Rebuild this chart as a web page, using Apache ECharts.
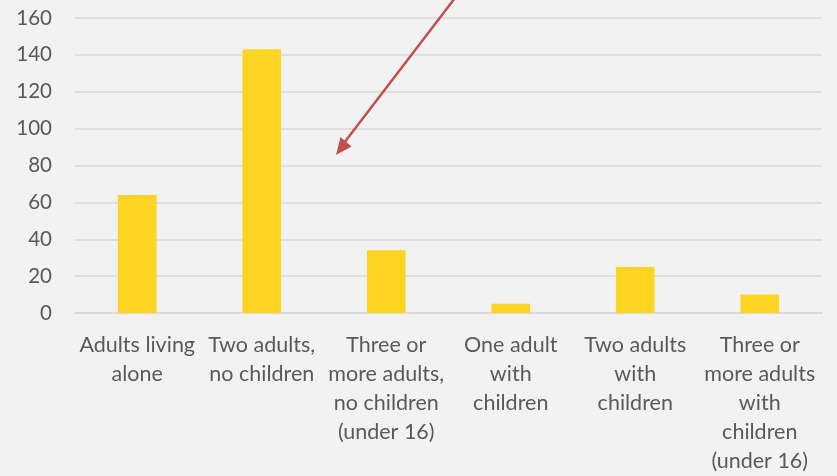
<!DOCTYPE html>
<html>
<head>
<meta charset="utf-8">
<script src="https://cdn.jsdelivr.net/npm/echarts@6/dist/echarts.min.js"></script>
<style>
  html, body { margin: 0; padding: 0; background: #f2f2f2; }
  #chart { width: 837px; height: 476px; }
</style>
</head>
<body>
<div id="chart"></div>
<script>
// Household types (wrapped as shown under the axis)
const categories = [
  'Adults living\nalone',
  'Two adults,\nno children',
  'Three or\nmore adults,\nno children\n(under 16)',
  'One adult\nwith\nchildren',
  'Two adults\nwith\nchildren',
  'Three or\nmore adults\nwith\nchildren\n(under 16)'
];
const values = [64, 143, 34, 5, 25, 10];
const yTicks = { min: 0, max: 160, interval: 20 };

const chart = echarts.init(document.getElementById('chart'));
const textColor = '#595959';
const font = 'Lato, "Open Sans", sans-serif';

chart.setOption({
  backgroundColor: '#f2f2f2',
  animation: false,
  grid: { left: 75, right: 15, top: 18, bottom: 160, containLabel: false },
  xAxis: {
    type: 'category',
    data: categories,
    axisLine: { show: true, lineStyle: { color: '#d9d9d9', width: 1.5 } },
    axisTick: { show: false },
    axisLabel: {
      color: textColor, fontFamily: font, fontSize: 21.5,
      lineHeight: 29, margin: 18, interval: 0, align: 'center'
    }
  },
  yAxis: {
    type: 'value',
    min: yTicks.min, max: yTicks.max, interval: yTicks.interval,
    axisLine: { show: false },
    axisTick: { show: false },
    splitLine: { lineStyle: { color: '#d9d9d9', width: 1.5 } },
    axisLabel: { color: textColor, fontFamily: font, fontSize: 20.5, margin: 23 }
  },
  series: [{
    type: 'bar',
    data: values,
    barWidth: '31%',
    itemStyle: { color: '#fdd421' }
  }],
  graphic: [
    {
      type: 'line',
      shape: { x1: 455, y1: -2, x2: 344, y2: 143 },
      style: { stroke: '#c0504d', lineWidth: 2.5 },
      z: 100
    },
    {
      type: 'polygon',
      shape: { points: [[336, 155], [340.5, 137], [351.5, 146.5]] },
      style: { fill: '#c0504d' },
      z: 100
    }
  ]
});
</script>
</body>
</html>
